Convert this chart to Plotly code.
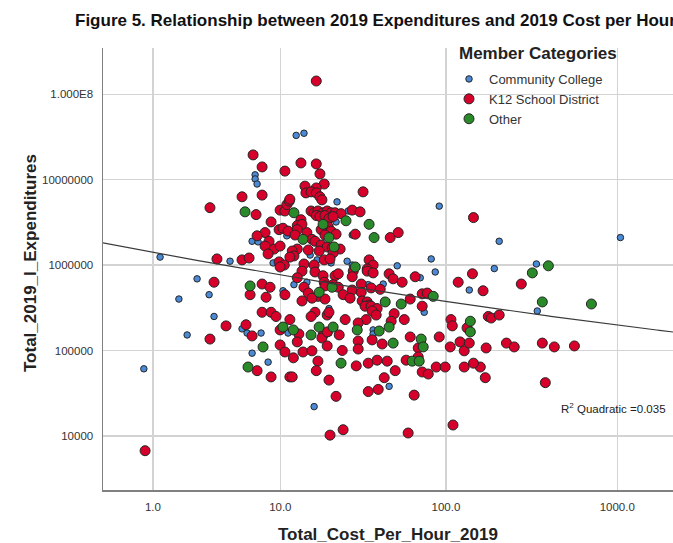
import numpy as np
import plotly.graph_objects as go

# ---------------- data ----------------
CC_COST = [12.6, 14.1, 22.5, 26.3, 22.2, 91.3, 27.8, 15.4, 17.0, 20.7, 25.9, 27.8, 51.6, 81.9,
           6.85, 6.85, 7.06, 6.54, 7.17, 1.20, 4.61, 8.99, 11.0, 205, 1043, 338, 192, 342,
           2.61, 1.83, 3.24, 10.4, 3.53, 5.59, 6.05, 7.50, 2.16, 11.2, 6.54, 8.34, 0.77,
           70.6, 86.5, 12.2, 14.7, 34.7, 42.6, 137, 43.2, 74.5, 20.1, 20.1, 37.1, 37.1, 46.2, 16.3]
CC_EXP = [3.3e7, 3.5e7, 5.5e6, 4.3e6, 3.2e6, 4.9e6, 2.25e6, 1.31e6, 1.15e6, 1.06e6, 1.11e6, 1.0e6, 9.8e5, 1.18e6,
          1.14e7, 1.02e7, 8.9e6, 1.9e6, 1.87e6, 1.24e6, 1.11e6, 1.06e6, 2.2e6, 1.9e6, 2.1e6, 1.03e6, 9.1e5, 2.9e5,
          6.9e5, 4.0e5, 4.5e5, 5.0e5, 2.5e5, 1.79e5, 1.6e5, 1.6e5, 1.52e5, 1.6e5, 9.3e4, 7.3e4, 6.1e4,
          7.1e5, 8.3e5, 5.9e5, 6.3e5, 5.9e5, 6.0e5, 5.1e5, 3.8e5, 2.8e5, 3.1e5, 1.6e5, 1.74e5, 1.56e5, 3.8e4, 2.2e4]

K12_COST = [6.64, 7.62, 10.7, 5.59, 7.62, 3.29, 6.95, 8.72, 9.82, 10.4, 11.2, 7.97, 7.06, 8.46, 7.97, 9.12,
            9.97, 8.34, 3.71, 5.59, 6.24, 9.82, 10.6, 9.97, 9.97, 10.7, 11.0, 11.4,
            16.8, 13.5, 16.8, 17.7, 18.8, 14.3, 16.8, 14.5, 15.6, 16.8, 17.7, 18.2, 11.5, 32.3,
            15.6, 16.3, 17.2, 18.5, 19.6, 20.7, 21.9, 23.8, 27.8, 31.0, 16.8, 17.7, 19.0, 20.1, 21.3,
            13.5, 12.8, 13.7, 145, 19.9, 18.0, 20.7, 22.2, 19.0, 12.8, 12.4, 14.7, 15.8, 16.5, 29.0,
            46.9, 52.3, 18.0, 19.6, 21.0, 23.5, 21.3, 15.0, 12.8, 11.9, 12.2, 11.5, 17.5, 18.8, 20.4,
            14.1, 16.3, 35.1, 37.1, 34.2,
            165, 276, 177, 184, 205, 172, 226, 251, 366, 430, 563, 159, 170, 381,
            3.53, 7.62, 8.59, 6.34, 8.09, 10.7, 7.62, 8.72, 9.39, 4.32, 5.95, 6.54, 3.29, 9.97, 9.97,
            10.7, 7.06, 8.72, 11.5, 0.80,
            13.7, 16.5, 18.5, 21.9, 22.9, 28.2, 34.2, 37.1, 46.2, 48.8, 55.2, 65.9, 118, 143, 12.8,
            14.1, 18.8, 19.0, 21.3, 22.9, 27.8, 27.8, 31.5, 36.1, 40.9, 15.0, 17.2, 15.8, 13.7, 19.0,
            24.5, 27.0, 31.5, 31.9, 34.2, 35.1, 33.2, 36.1, 39.2, 61.6, 72.5, 77.6, 72.5, 36.6, 38.7,
            16.5, 15.6, 19.6, 20.1, 25.2, 33.7, 49.5, 47.5, 56.8, 11.5, 107, 109, 133, 30.2, 13.1,
            18.5, 18.2, 19.6, 23.2, 61.6, 91.3, 12.8, 30.2, 36.6, 42.0, 19.6, 68.7, 106, 121, 128,
            137, 13.9, 15.8, 24.2, 30.2, 12.1, 17.2, 16.8, 29.4, 34.7, 39.2, 45.0, 58.3, 68.7, 50.2,
            72.5, 78.7, 87.7, 99, 128, 145, 11.9, 20.1, 43.2, 39.8, 34.7, 22.2, 65.0, 110, 24.5,
            20.4, 59.9]
K12_EXP = [1.95e7, 1.41e7, 1.26e7, 6.3e6, 6.6e6, 4.7e6, 3.9e6, 3.2e6, 2.6e6, 2.7e6, 2.5e6, 2.4e6, 2.2e6, 1.9e6, 1.67e6, 1.54e6,
           1.67e6, 1.35e6, 1.18e6, 1.15e6, 1.21e6, 1.09e6, 1.0e6, 9.5e5, 4.4e6, 4.3e6, 5.1e6, 5.6e6,
           1.43e8, 1.57e7, 1.53e7, 1.17e7, 8.9e6, 8.4e6, 8.0e6, 7.0e6, 7.2e6, 7.0e6, 6.3e6, 5.8e6, 5.9e6, 7.2e6,
           4.3e6, 4.1e6, 4.3e6, 4.1e6, 4.3e6, 4.1e6, 4.1e6, 4.0e6, 4.4e6, 4.2e6, 3.8e6, 3.7e6, 3.8e6, 3.5e6, 3.7e6,
           3.4e6, 2.9e6, 3.0e6, 3.6e6, 2.8e6, 2.6e6, 2.5e6, 2.3e6, 2.25e6, 2.6e6, 2.25e6, 2.4e6, 2.0e6, 1.9e6, 2.3e6,
           2.1e6, 2.4e6, 1.72e6, 1.63e6, 1.59e6, 1.54e6, 1.39e6, 1.5e6, 1.54e6, 1.46e6, 1.28e6, 1.24e6, 1.46e6, 1.15e6, 1.18e6,
           1.03e6, 1.0e6, 1.15e6, 1.0e6, 9.0e5,
           5.0e5, 6.0e5, 2.5e5, 2.4e5, 2.6e5, 1.07e5, 1.22e5, 1.1e5, 1.22e5, 1.1e5, 1.13e5, 6.4e4, 4.8e4, 4.2e4,
           6.3e5, 6.0e5, 5.5e5, 4.5e5, 4.2e5, 4.5e5, 2.8e5, 2.8e5, 2.5e5, 1.94e5, 2.0e5, 1.48e5, 1.36e5, 1.74e5, 1.16e5,
           9.6e4, 5.8e4, 4.9e4, 4.9e4, 6.7e3,
           8.5e5, 8.3e5, 7.5e5, 7.5e5, 7.9e5, 8.5e5, 8.5e5, 8.1e5, 7.9e5, 6.9e5, 6.3e5, 7.3e5, 6.3e5, 7.9e5, 7.1e5,
           5.5e5, 6.3e5, 5.7e5, 5.9e5, 5.5e5, 7.3e5, 5.1e5, 6.0e5, 5.4e5, 5.2e5, 4.7e5, 4.3e5, 4.1e5, 3.8e5, 4.0e5,
           4.5e5, 4.1e5, 4.8e5, 3.8e5, 3.7e5, 3.4e5, 3.3e5, 3.3e5, 3.1e5, 4.0e5, 4.6e5, 4.7e5, 3.3e5, 2.9e5, 2.6e5,
           2.8e5, 2.5e5, 2.6e5, 2.8e5, 2.3e5, 2.3e5, 2.7e5, 2.2e5, 2.3e5, 2.3e5, 2.3e5, 1.94e5, 1.84e5, 2.1e5, 1.56e5,
           1.52e5, 1.4e5, 1.65e5, 1.52e5, 1.44e5, 1.44e5, 1.26e5, 1.29e5, 1.33e5, 1.19e5, 1.13e5, 1.07e5, 1.1e5, 1.26e5, 9.9e4,
           1.22e5, 9.6e4, 9.9e4, 1.0e5, 1.04e5, 8.2e4, 7.5e4, 5.8e4, 6.6e4, 7.1e4, 7.7e4, 7.5e4, 7.7e4, 8.4e4, 5.8e4,
           5.6e4, 5.3e4, 6.4e4, 6.4e4, 6.4e4, 7.1e4, 4.9e4, 4.5e4, 4.8e4, 3.5e4, 3.3e4, 2.9e4, 3.0e4, 1.34e4, 1.18e4,
           1.02e4, 1.08e4]

OTH_COST = [12.2, 25.5, 35.1, 18.5, 13.9, 20.1, 37.6, 21.6, 29.0, 5.86, 397, 320, 366, 707,
            6.34, 10.4, 7.73, 6.14,
            21.0, 17.5, 43.8, 54.5, 84.2, 139, 139, 17.5, 21.3, 12.1, 29.8, 46.2, 40.3, 15.6,
            71.5, 73.5, 48.8, 23.8, 63.3, 69.6]
OTH_EXP = [4.1e6, 3.3e6, 3.0e6, 3.0e6, 2.0e6, 2.1e6, 2.1e6, 1.63e6, 9.5e5, 4.2e6, 9.8e5, 8.1e5, 3.7e5, 3.5e5,
           5.7e5, 1.88e5, 1.1e5, 6.4e4,
           5.5e5, 4.8e5, 3.7e5, 3.5e5, 4.3e5, 2.2e5, 1.65e5, 1.88e5, 1.88e5, 1.74e5, 1.74e5, 1.88e5, 1.69e5, 1.52e5,
           1.36e5, 1.1e5, 1.22e5, 7.1e4, 7.5e4, 7.5e4]

# quadratic fit (log10 expenditure vs log10(1 + cost)), as shown in the chart
FIT_COEF = [6.263, -0.387, 0.0217]
R2_TEXT = "R<sup>2</sup> Quadratic =0.035"

X_TICK_VALUES = [1, 10, 100, 1000]
X_TICK_LABELS = ["1.0", "10.0", "100.0", "1000.0"]
Y_TICK_VALUES = [1e4, 1e5, 1e6, 1e7, 1e8]
Y_TICK_LABELS = ["10000", "100000", "1000000", "10000000", "1.000E8"]

SERIES = [
    ("Community College", CC_COST, CC_EXP),
    ("K12 School District", K12_COST, K12_EXP),
    ("Other", OTH_COST, OTH_EXP),
]
# --------------------------------------------------------------------------

FONT = "Liberation Sans, Arial, sans-serif"
STYLE = {
    "Community College": dict(color="#4a8ad6", size=6.5),
    "K12 School District": dict(color="#d6002a", size=10),
    "Other": dict(color="#2a8a2a", size=10),
}


def safe_log(v):
    return np.log10(1.0 + np.asarray(v, dtype=float))


fig = go.Figure()
for name, cost, exp in SERIES:
    st = STYLE[name]
    fig.add_trace(go.Scatter(
        x=safe_log(cost), y=exp, mode="markers", name=name,
        marker=dict(color=st["color"], size=st["size"], line=dict(color="#262626", width=1)),
        hoverinfo="skip",
    ))

u = np.linspace(0.0, 3.4, 200)
v = FIT_COEF[0] + FIT_COEF[1] * u + FIT_COEF[2] * u ** 2
fig.add_trace(go.Scatter(x=u, y=10 ** v, mode="lines", showlegend=False,
                         line=dict(color="#3a3a3a", width=1.2), hoverinfo="skip"))

L, R, T, B = 103, 0, 48, 53
W, H = 673, 543
pw, ph = W - L - R, H - T - B


def px(xp):
    return (xp - L) / pw


def py(yp):
    return (H - B - yp) / ph


fig.update_layout(
    width=W, height=H,
    margin=dict(l=L, r=R, t=T, b=B),
    paper_bgcolor="white", plot_bgcolor="white",
    font=dict(family=FONT, color="#222"),
    showlegend=True,
    hovermode=False,
    legend=dict(x=px(449), y=py(64), xanchor="left", yanchor="top",
                bgcolor="rgba(0,0,0,0)", font=dict(size=13, color="#333", family=FONT),
                tracegroupgap=0, itemwidth=30),
    xaxis=dict(range=[0.0105, 3.3244], tickvals=list(safe_log(X_TICK_VALUES)), ticktext=X_TICK_LABELS,
               showgrid=True, gridcolor="#d3d3d3", gridwidth=1.5, zeroline=False,
               showline=True, linecolor="#808080", linewidth=1.5, ticks="",
               tickfont=dict(size=11.5, color="#333"), ticklabelstandoff=6),
    yaxis=dict(type="log", range=[3.366, 8.542], tickvals=Y_TICK_VALUES, ticktext=Y_TICK_LABELS,
               showgrid=True, gridcolor="#d3d3d3", gridwidth=1.5, zeroline=False,
               showline=True, linecolor="#808080", linewidth=1.5, ticks="",
               tickfont=dict(size=11.5, color="#333"), ticklabelstandoff=6),
    annotations=[
        dict(text="<b>Figure 5. Relationship between 2019 Expenditures and 2019 Cost per Hour</b>",
             xref="paper", yref="paper", x=px(73), y=py(20), xanchor="left", yanchor="middle",
             showarrow=False, font=dict(size=17, color="#111", family=FONT)),
        dict(text="<b>Member Categories</b>", xref="paper", yref="paper", x=px(457), y=py(54),
             xanchor="left", yanchor="middle", showarrow=False, font=dict(size=17, color="#222", family=FONT)),
        dict(text="<b>Total_Cost_Per_Hour_2019</b>", xref="paper", yref="paper", x=px(388), y=py(534),
             xanchor="center", yanchor="middle", showarrow=False, font=dict(size=17, color="#222", family=FONT)),
        dict(text="<b>Total_2019_I_Expenditures</b>", xref="paper", yref="paper", x=px(30), y=py(263),
             xanchor="center", yanchor="middle", textangle=-90, showarrow=False,
             font=dict(size=17, color="#222", family=FONT)),
        dict(text=R2_TEXT, xref="paper", yref="paper", x=px(668), y=py(408), xanchor="right", yanchor="middle",
             showarrow=False, font=dict(size=11.5, color="#222", family=FONT)),
    ],
)

fig.write_html("out.html", config={"displayModeBar": False, "staticPlot": True},
               post_script="document.body.style.margin='0px';document.body.style.overflow='hidden';")
